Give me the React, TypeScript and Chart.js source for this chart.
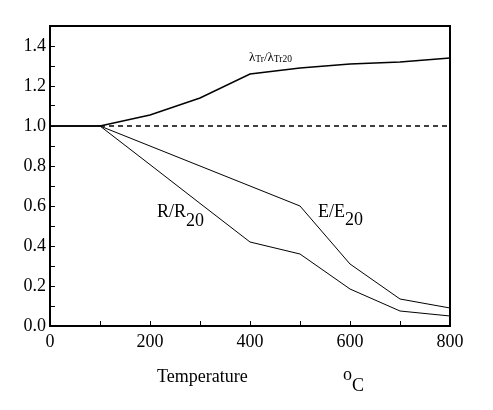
import React, { useEffect, useRef } from "react";
import { Chart, registerables } from "chart.js";

Chart.register(...registerables);

const temps = [0, 100, 200, 300, 400, 500, 600, 700, 800];
const lambdaRatio = [1.0, 1.0, 1.055, 1.14, 1.26, 1.29, 1.31, 1.32, 1.34];
const eRatio = [1.0, 1.0, 0.9, 0.8, 0.7, 0.6, 0.31, 0.135, 0.09];
const rRatio = [1.0, 1.0, 0.807, 0.613, 0.42, 0.36, 0.185, 0.075, 0.05];
const refTemps = [100, 800];
const refValues = [1.0, 1.0];

const xMin = 0;
const xMax = 800;
const yMin = 0;
const yMax = 1.5;

const FONT = "'Liberation Serif', 'Times New Roman', serif";

type Piece = { t: string; size: number; dy: number };

function drawPieces(ctx: CanvasRenderingContext2D, x: number, y: number, pieces: Piece[]) {
  let cx = x;
  for (const p of pieces) {
    ctx.font = `${p.size}px ${FONT}`;
    ctx.fillText(p.t, cx, y + p.dy);
    cx += ctx.measureText(p.t).width;
  }
}

const framePlugin = {
  id: "frameAndText",
  afterDraw(chart: any) {
    const { ctx, chartArea } = chart;
    ctx.save();
    ctx.strokeStyle = "#000";
    ctx.lineWidth = 2;
    ctx.strokeRect(chartArea.left, chartArea.top, chartArea.right - chartArea.left, chartArea.bottom - chartArea.top);

    ctx.fillStyle = "#000";
    ctx.textAlign = "left";
    ctx.textBaseline = "alphabetic";
    const xs = chart.scales.x;
    const ys = chart.scales.y;

    // lambda label
    drawPieces(ctx, xs.getPixelForValue(398), ys.getPixelForValue(1.325), [
      { t: "\u03bb", size: 13, dy: 0 },
      { t: "Tr", size: 9.5, dy: 1 },
      { t: "/", size: 13, dy: 0 },
      { t: "\u03bb", size: 13, dy: 0 },
      { t: "Tr20", size: 9.5, dy: 1 },
    ]);

    // R/R20
    drawPieces(ctx, xs.getPixelForValue(214), ys.getPixelForValue(0.545), [
      { t: "R/R", size: 18, dy: 0 },
      { t: "20", size: 18, dy: 9 },
    ]);

    // E/E20
    drawPieces(ctx, xs.getPixelForValue(536), ys.getPixelForValue(0.547), [
      { t: "E/E", size: 18, dy: 0 },
      { t: "20", size: 18, dy: 8 },
    ]);

    // axis title
    const area = chart.chartArea;
    ctx.font = `18px ${FONT}`;
    ctx.fillText("Temperature", 157, area.bottom + 56);
    drawPieces(ctx, 343, area.bottom + 54, [
      { t: "o", size: 18, dy: 0 },
      { t: "C", size: 18, dy: 11 },
    ]);
    ctx.restore();
  },
};

export default function App() {
  const ref = useRef<HTMLCanvasElement | null>(null);

  useEffect(() => {
    if (!ref.current) return;
    const chart = new Chart(ref.current, {
      type: "line",
      data: {
        datasets: [
          {
            label: "lambda",
            data: temps.map((t, i) => ({ x: t, y: lambdaRatio[i] })),
            borderColor: "#000",
            borderWidth: 1.4,
            pointRadius: 0,
            tension: 0,
          },
          {
            label: "E",
            data: temps.map((t, i) => ({ x: t, y: eRatio[i] })),
            borderColor: "#000",
            borderWidth: 1,
            pointRadius: 0,
            tension: 0,
          },
          {
            label: "R",
            data: temps.map((t, i) => ({ x: t, y: rRatio[i] })),
            borderColor: "#000",
            borderWidth: 1,
            pointRadius: 0,
            tension: 0,
          },
          {
            label: "ref",
            data: refTemps.map((t, i) => ({ x: t, y: refValues[i] })),
            borderColor: "#000",
            borderWidth: 1.5,
            borderDash: [5, 4],
            pointRadius: 0,
            tension: 0,
          },
        ],
      },
      options: {
        responsive: false,
        animation: false,
        devicePixelRatio: 1,
        layout: { padding: { top: 26, right: 43, left: 0, bottom: 0 } },
        plugins: { legend: { display: false }, tooltip: { enabled: false } },
        scales: {
          x: {
            type: "linear",
            min: xMin,
            max: xMax,
            border: { display: false },
            grid: { drawOnChartArea: false, drawTicks: true, tickLength: -5, color: "#000", lineWidth: 1 },
            ticks: {
              stepSize: 100,
              maxRotation: 0,
              autoSkip: false,
              color: "#000",
              padding: 10,
              font: { family: FONT, size: 18 },
              callback: (v: any) => (Math.round(v) % 200 === 0 ? String(Math.round(v)) : ""),
            },
            afterFit: (s: any) => {
              s.height = 84;
            },
          },
          y: {
            type: "linear",
            min: yMin,
            max: yMax,
            border: { display: false },
            grid: { drawOnChartArea: false, drawTicks: true, tickLength: -5, color: "#000", lineWidth: 1 },
            ticks: {
              stepSize: 0.1,
              autoSkip: false,
              color: "#000",
              padding: 9,
              font: { family: FONT, size: 18 },
              callback: (v: any) => {
                const k = Math.round(v * 10);
                if (k % 2 !== 0 || k > 14) return "";
                return (k / 10).toFixed(1);
              },
            },
            afterFit: (s: any) => {
              s.width = 50;
            },
          },
        },
      },
      plugins: [framePlugin],
    } as any);
    return () => chart.destroy();
  }, []);

  return (
    <div style={{ position: "absolute", left: 0, top: 0, width: 493, height: 410, background: "#fff" }}>
      <canvas ref={ref} width={493} height={410} />
    </div>
  );
}
